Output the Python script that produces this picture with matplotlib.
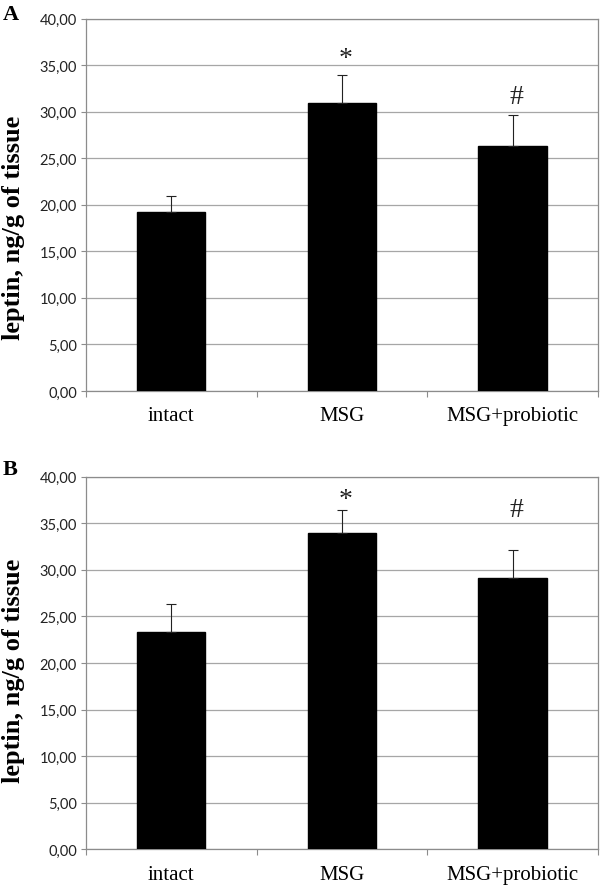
import matplotlib
matplotlib.use('Agg')
import matplotlib.pyplot as plt
import numpy as np

# Data
groups = ['intact', 'MSG', 'MSG+probiotic']
leptin_a = [19.2, 30.9, 26.3]
err_a = [1.7, 3.0, 3.3]
leptin_b = [23.3, 34.0, 29.1]
err_b = [3.0, 2.45, 3.05]
marks = ['', '*', '#']
mark_y_a = [None, 35.0, 30.9]
mark_y_b = [None, 36.9, 35.8]
yticks = [0, 5, 10, 15, 20, 25, 30, 35, 40]

GRID = '#a6a6a6'
SPINE = '#8c8c8c'
SERIF = 'Liberation Serif'
SANS = 'Lato'

fig = plt.figure(figsize=(6, 8.87), dpi=100, facecolor='white')


def draw_panel(rect, vals, errs, mark_y, letter, letter_y, label_y):
    ax = fig.add_axes(rect)
    x = np.arange(len(groups))
    ax.bar(x, vals, width=0.4, color='black', edgecolor='black', zorder=3)
    ax.errorbar(x, vals, yerr=[np.zeros(len(errs)), errs], fmt='none',
                ecolor='#222222', elinewidth=0.8, capsize=3.5,
                capthick=0.8, zorder=4)
    for xi, m, my in zip(x, marks, mark_y):
        if m:
            ax.text(xi + 0.02, my, m, ha='center', va='baseline',
                    fontsize=20, fontfamily=SERIF, color='#222222')
    ax.set_xlim(-0.5, 2.5)
    ax.set_ylim(0, 40)
    ax.set_yticks(yticks)
    ax.set_yticklabels([f'{v:.2f}'.replace('.', ',') for v in yticks],
                       fontfamily=SANS, fontsize=10.5, color='#222222')
    ax.set_xticks(x)
    ax.set_xticklabels(groups, fontfamily=SERIF, fontsize=15)
    ax.set_xticks([-0.5, 0.5, 1.5, 2.5], minor=True)
    ax.tick_params(axis='x', which='major', length=0, pad=11)
    ax.tick_params(axis='x', which='minor', length=4.5, color=SPINE,
                   width=0.8)
    ax.tick_params(axis='y', length=3.5, color=SPINE, width=0.8, pad=3)
    ax.yaxis.grid(True, color=GRID, linewidth=0.9, zorder=0)
    ax.set_axisbelow(True)
    for s in ax.spines.values():
        s.set_color(SPINE)
        s.set_linewidth(0.9)
    fig.text(0.022, label_y, 'leptin, ng/g of tissue', rotation=90,
             ha='center', va='center', fontsize=19, fontweight='bold',
             fontfamily=SERIF)
    fig.text(0.005, letter_y, letter, ha='left', va='center', fontsize=16,
             fontweight='bold', fontfamily=SERIF)
    return ax


draw_panel([0.1433, 0.5581, 0.8533, 0.4199], leptin_a, err_a, mark_y_a,
           'A', 1 - 15 / 887, 0.7435)
draw_panel([0.1433, 0.0414, 0.8533, 0.4200], leptin_b, err_b, mark_y_b,
           'B', 1 - 470 / 887, 0.2435)

fig.savefig('out.png', dpi=100, facecolor='white')
